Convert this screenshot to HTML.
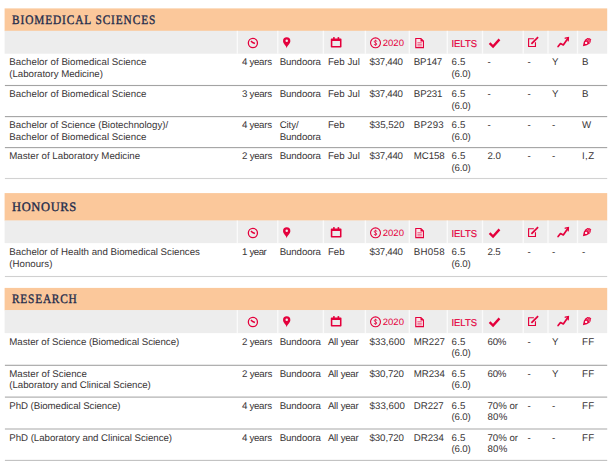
<!DOCTYPE html>
<html><head><meta charset="utf-8"><title>Courses</title><style>
html,body{margin:0;padding:0;background:#fff;}
body{width:612px;height:470px;position:relative;overflow:hidden;font-family:"Liberation Sans",sans-serif;}
svg.bg{position:absolute;left:0;top:0;}
svg.bg text{font-family:"Liberation Sans",sans-serif;text-rendering:geometricPrecision;}
.t{position:absolute;text-rendering:geometricPrecision;font-size:9.7px;line-height:14px;height:14px;color:#393536;white-space:nowrap;}
.h{position:absolute;text-rendering:geometricPrecision;font-family:"Liberation Serif",serif;font-size:12.9px;line-height:20px;height:20px;color:#1d2b4b;white-space:nowrap;-webkit-text-stroke:0.34px #1d2b4b;transform-origin:0 0;}
</style></head>
<body>
<svg class="bg" width="612" height="470" viewBox="0 0 612 470">
<rect x="4.60" y="8.40" width="602.60" height="22.70" fill="#fbc89b"/>
<rect x="4.60" y="30.80" width="602.60" height="22.90" fill="#ededed"/>
<rect x="236.65" y="30.80" width="1.4" height="22.90" fill="#ffffff" opacity="0.72"/>
<rect x="277.05" y="30.80" width="1.4" height="22.90" fill="#ffffff" opacity="0.72"/>
<rect x="322.70" y="30.80" width="1.4" height="22.90" fill="#ffffff" opacity="0.72"/>
<rect x="364.70" y="30.80" width="1.4" height="22.90" fill="#ffffff" opacity="0.72"/>
<rect x="408.60" y="30.80" width="1.4" height="22.90" fill="#ffffff" opacity="0.72"/>
<rect x="446.60" y="30.80" width="1.4" height="22.90" fill="#ffffff" opacity="0.72"/>
<rect x="481.80" y="30.80" width="1.4" height="22.90" fill="#ffffff" opacity="0.72"/>
<rect x="522.50" y="30.80" width="1.4" height="22.90" fill="#ffffff" opacity="0.72"/>
<rect x="547.30" y="30.80" width="1.4" height="22.90" fill="#ffffff" opacity="0.72"/>
<rect x="576.80" y="30.80" width="1.4" height="22.90" fill="#ffffff" opacity="0.72"/>
<g transform="translate(0 0.00)">
<circle cx="252.9" cy="43" r="4.55" fill="none" stroke="#e4003c" stroke-width="1.3"/>
<path d="M250.9 41.2 L253.2 42.8 L254.9 43.5" fill="none" stroke="#e4003c" stroke-width="1.5" stroke-linejoin="round"/>
<path d="M286.7 48.2 C286.3 45.3 283.05 43.9 283.05 40.9 A3.65 3.65 0 0 1 290.35 40.9 C290.35 43.9 287.1 45.3 286.7 48.2 Z" fill="#e4003c"/><circle cx="286.75" cy="40.85" r="1.25" fill="#f6eaec"/>
<path fill-rule="evenodd" d="M331.6 38.4 H340.7 Q341.5 38.4 341.5 39.2 V46.8 Q341.5 47.6 340.7 47.6 H331.6 Q330.8 47.6 330.8 46.8 V39.2 Q330.8 38.4 331.6 38.4 Z M332.35 41.0 V46.05 H339.95 V41.0 Z" fill="#e4003c"/>
<rect x="333.1" y="37.1" width="1.6" height="2" fill="#e4003c"/><rect x="337.6" y="37.1" width="1.6" height="2" fill="#e4003c"/>
<circle cx="375.5" cy="42.8" r="4.95" fill="none" stroke="#e4003c" stroke-width="1.1"/>
<path d="M376.8 41.5 C376.8 40.2 374.3 40.2 374.3 41.6 C374.3 43 376.8 42.6 376.8 44.1 C376.8 45.4 374.2 45.4 374.2 44.1" fill="none" stroke="#e4003c" stroke-width="0.9"/><path d="M375.5 39.7 V45.9" stroke="#e4003c" stroke-width="0.6"/>
<text x="382.7" y="45.6" font-size="9.2" fill="#e4003c" textLength="21.3" lengthAdjust="spacingAndGlyphs">2020</text>
<path d="M415.75 38.55 H420.9 L423.45 41.1 V47.6 H415.75 Z" fill="#fbe4e9" stroke="#e4003c" stroke-width="1.1" stroke-linejoin="miter"/>
<path d="M420.5 38.2 V41.5 H423.8 Z" fill="#e4003c"/>
<path d="M417.4 42.7 H421.8 M417.4 44.3 H421.8 M417.4 45.9 H421.8" stroke="#e4003c" stroke-width="0.7" opacity="0.8"/>
<text x="451.5" y="47" font-size="10" fill="#e4003c" stroke="#e4003c" stroke-width="0.2" textLength="25.4" lengthAdjust="spacingAndGlyphs">IELTS</text>
<path d="M489.6 43.2 L493.05 46.55 L499.45 39.35" fill="none" stroke="#e4003c" stroke-width="2.4"/>
<path d="M533.9 38.75 H528.6 V46.45 H535.45 V42.3" fill="none" stroke="#e4003c" stroke-width="1.15"/>
<path d="M531.4 43.9 L538.1 37.2" fill="none" stroke="#e4003c" stroke-width="1.75"/>
<path d="M558.1 46.6 L560.5 43.5 L563.3 44.9 L567.8 38.4" fill="none" stroke="#e4003c" stroke-width="1.7" stroke-linejoin="round" stroke-linecap="round"/>
<path d="M565.2 38.2 L568.4 37.6 L568.2 40.8" fill="none" stroke="#e4003c" stroke-width="1.35" stroke-linejoin="miter" stroke-linecap="round"/>
<path d="M582.9 46.25 L583.85 41.8 Q585.1 39.1 587.5 38.05 Q590.2 37.4 591.0 39.6 Q591.4 41.7 589.4 43.8 Q587.4 45.5 582.9 46.25 Z" fill="#e4003c"/>
<circle cx="586.1" cy="42.9" r="1.2" fill="#fbeef1"/>
<path d="M586.6 40.6 L588.6 38.9 M587.8 41.6 L589.8 39.8 M588.9 42.7 L590.6 41.0" stroke="#fad3db" stroke-width="0.7"/>
</g>
<rect x="4.90" y="84.95" width="602.30" height="1.10" fill="#a3a3a3"/>
<rect x="4.90" y="116.05" width="602.30" height="1.10" fill="#a3a3a3"/>
<rect x="4.90" y="147.05" width="602.30" height="1.10" fill="#a3a3a3"/>
<rect x="4.90" y="177.95" width="602.30" height="1.10" fill="#d2d2d2"/>
<rect x="4.60" y="193.10" width="602.60" height="27.70" fill="#fbc89b"/>
<rect x="4.60" y="220.50" width="602.60" height="22.60" fill="#ededed"/>
<rect x="236.65" y="220.50" width="1.4" height="22.60" fill="#ffffff" opacity="0.72"/>
<rect x="277.05" y="220.50" width="1.4" height="22.60" fill="#ffffff" opacity="0.72"/>
<rect x="322.70" y="220.50" width="1.4" height="22.60" fill="#ffffff" opacity="0.72"/>
<rect x="364.70" y="220.50" width="1.4" height="22.60" fill="#ffffff" opacity="0.72"/>
<rect x="408.60" y="220.50" width="1.4" height="22.60" fill="#ffffff" opacity="0.72"/>
<rect x="446.60" y="220.50" width="1.4" height="22.60" fill="#ffffff" opacity="0.72"/>
<rect x="481.80" y="220.50" width="1.4" height="22.60" fill="#ffffff" opacity="0.72"/>
<rect x="522.50" y="220.50" width="1.4" height="22.60" fill="#ffffff" opacity="0.72"/>
<rect x="547.30" y="220.50" width="1.4" height="22.60" fill="#ffffff" opacity="0.72"/>
<rect x="576.80" y="220.50" width="1.4" height="22.60" fill="#ffffff" opacity="0.72"/>
<g transform="translate(0 190.00)">
<circle cx="252.9" cy="43" r="4.55" fill="none" stroke="#e4003c" stroke-width="1.3"/>
<path d="M250.9 41.2 L253.2 42.8 L254.9 43.5" fill="none" stroke="#e4003c" stroke-width="1.5" stroke-linejoin="round"/>
<path d="M286.7 48.2 C286.3 45.3 283.05 43.9 283.05 40.9 A3.65 3.65 0 0 1 290.35 40.9 C290.35 43.9 287.1 45.3 286.7 48.2 Z" fill="#e4003c"/><circle cx="286.75" cy="40.85" r="1.25" fill="#f6eaec"/>
<path fill-rule="evenodd" d="M331.6 38.4 H340.7 Q341.5 38.4 341.5 39.2 V46.8 Q341.5 47.6 340.7 47.6 H331.6 Q330.8 47.6 330.8 46.8 V39.2 Q330.8 38.4 331.6 38.4 Z M332.35 41.0 V46.05 H339.95 V41.0 Z" fill="#e4003c"/>
<rect x="333.1" y="37.1" width="1.6" height="2" fill="#e4003c"/><rect x="337.6" y="37.1" width="1.6" height="2" fill="#e4003c"/>
<circle cx="375.5" cy="42.8" r="4.95" fill="none" stroke="#e4003c" stroke-width="1.1"/>
<path d="M376.8 41.5 C376.8 40.2 374.3 40.2 374.3 41.6 C374.3 43 376.8 42.6 376.8 44.1 C376.8 45.4 374.2 45.4 374.2 44.1" fill="none" stroke="#e4003c" stroke-width="0.9"/><path d="M375.5 39.7 V45.9" stroke="#e4003c" stroke-width="0.6"/>
<text x="382.7" y="45.6" font-size="9.2" fill="#e4003c" textLength="21.3" lengthAdjust="spacingAndGlyphs">2020</text>
<path d="M415.75 38.55 H420.9 L423.45 41.1 V47.6 H415.75 Z" fill="#fbe4e9" stroke="#e4003c" stroke-width="1.1" stroke-linejoin="miter"/>
<path d="M420.5 38.2 V41.5 H423.8 Z" fill="#e4003c"/>
<path d="M417.4 42.7 H421.8 M417.4 44.3 H421.8 M417.4 45.9 H421.8" stroke="#e4003c" stroke-width="0.7" opacity="0.8"/>
<text x="451.5" y="47" font-size="10" fill="#e4003c" stroke="#e4003c" stroke-width="0.2" textLength="25.4" lengthAdjust="spacingAndGlyphs">IELTS</text>
<path d="M489.6 43.2 L493.05 46.55 L499.45 39.35" fill="none" stroke="#e4003c" stroke-width="2.4"/>
<path d="M533.9 38.75 H528.6 V46.45 H535.45 V42.3" fill="none" stroke="#e4003c" stroke-width="1.15"/>
<path d="M531.4 43.9 L538.1 37.2" fill="none" stroke="#e4003c" stroke-width="1.75"/>
<path d="M558.1 46.6 L560.5 43.5 L563.3 44.9 L567.8 38.4" fill="none" stroke="#e4003c" stroke-width="1.7" stroke-linejoin="round" stroke-linecap="round"/>
<path d="M565.2 38.2 L568.4 37.6 L568.2 40.8" fill="none" stroke="#e4003c" stroke-width="1.35" stroke-linejoin="miter" stroke-linecap="round"/>
<path d="M582.9 46.25 L583.85 41.8 Q585.1 39.1 587.5 38.05 Q590.2 37.4 591.0 39.6 Q591.4 41.7 589.4 43.8 Q587.4 45.5 582.9 46.25 Z" fill="#e4003c"/>
<circle cx="586.1" cy="42.9" r="1.2" fill="#fbeef1"/>
<path d="M586.6 40.6 L588.6 38.9 M587.8 41.6 L589.8 39.8 M588.9 42.7 L590.6 41.0" stroke="#fad3db" stroke-width="0.7"/>
</g>
<rect x="4.90" y="275.95" width="602.30" height="1.10" fill="#d0d0d0"/>
<rect x="4.60" y="287.90" width="602.60" height="22.50" fill="#fbc89b"/>
<rect x="4.60" y="310.10" width="602.60" height="23.00" fill="#ededed"/>
<rect x="236.65" y="310.10" width="1.4" height="23.00" fill="#ffffff" opacity="0.72"/>
<rect x="277.05" y="310.10" width="1.4" height="23.00" fill="#ffffff" opacity="0.72"/>
<rect x="322.70" y="310.10" width="1.4" height="23.00" fill="#ffffff" opacity="0.72"/>
<rect x="364.70" y="310.10" width="1.4" height="23.00" fill="#ffffff" opacity="0.72"/>
<rect x="408.60" y="310.10" width="1.4" height="23.00" fill="#ffffff" opacity="0.72"/>
<rect x="446.60" y="310.10" width="1.4" height="23.00" fill="#ffffff" opacity="0.72"/>
<rect x="481.80" y="310.10" width="1.4" height="23.00" fill="#ffffff" opacity="0.72"/>
<rect x="522.50" y="310.10" width="1.4" height="23.00" fill="#ffffff" opacity="0.72"/>
<rect x="547.30" y="310.10" width="1.4" height="23.00" fill="#ffffff" opacity="0.72"/>
<rect x="576.80" y="310.10" width="1.4" height="23.00" fill="#ffffff" opacity="0.72"/>
<g transform="translate(0 279.00)">
<circle cx="252.9" cy="43" r="4.55" fill="none" stroke="#e4003c" stroke-width="1.3"/>
<path d="M250.9 41.2 L253.2 42.8 L254.9 43.5" fill="none" stroke="#e4003c" stroke-width="1.5" stroke-linejoin="round"/>
<path d="M286.7 48.2 C286.3 45.3 283.05 43.9 283.05 40.9 A3.65 3.65 0 0 1 290.35 40.9 C290.35 43.9 287.1 45.3 286.7 48.2 Z" fill="#e4003c"/><circle cx="286.75" cy="40.85" r="1.25" fill="#f6eaec"/>
<path fill-rule="evenodd" d="M331.6 38.4 H340.7 Q341.5 38.4 341.5 39.2 V46.8 Q341.5 47.6 340.7 47.6 H331.6 Q330.8 47.6 330.8 46.8 V39.2 Q330.8 38.4 331.6 38.4 Z M332.35 41.0 V46.05 H339.95 V41.0 Z" fill="#e4003c"/>
<rect x="333.1" y="37.1" width="1.6" height="2" fill="#e4003c"/><rect x="337.6" y="37.1" width="1.6" height="2" fill="#e4003c"/>
<circle cx="375.5" cy="42.8" r="4.95" fill="none" stroke="#e4003c" stroke-width="1.1"/>
<path d="M376.8 41.5 C376.8 40.2 374.3 40.2 374.3 41.6 C374.3 43 376.8 42.6 376.8 44.1 C376.8 45.4 374.2 45.4 374.2 44.1" fill="none" stroke="#e4003c" stroke-width="0.9"/><path d="M375.5 39.7 V45.9" stroke="#e4003c" stroke-width="0.6"/>
<text x="382.7" y="45.6" font-size="9.2" fill="#e4003c" textLength="21.3" lengthAdjust="spacingAndGlyphs">2020</text>
<path d="M415.75 38.55 H420.9 L423.45 41.1 V47.6 H415.75 Z" fill="#fbe4e9" stroke="#e4003c" stroke-width="1.1" stroke-linejoin="miter"/>
<path d="M420.5 38.2 V41.5 H423.8 Z" fill="#e4003c"/>
<path d="M417.4 42.7 H421.8 M417.4 44.3 H421.8 M417.4 45.9 H421.8" stroke="#e4003c" stroke-width="0.7" opacity="0.8"/>
<text x="451.5" y="47" font-size="10" fill="#e4003c" stroke="#e4003c" stroke-width="0.2" textLength="25.4" lengthAdjust="spacingAndGlyphs">IELTS</text>
<path d="M489.6 43.2 L493.05 46.55 L499.45 39.35" fill="none" stroke="#e4003c" stroke-width="2.4"/>
<path d="M533.9 38.75 H528.6 V46.45 H535.45 V42.3" fill="none" stroke="#e4003c" stroke-width="1.15"/>
<path d="M531.4 43.9 L538.1 37.2" fill="none" stroke="#e4003c" stroke-width="1.75"/>
<path d="M558.1 46.6 L560.5 43.5 L563.3 44.9 L567.8 38.4" fill="none" stroke="#e4003c" stroke-width="1.7" stroke-linejoin="round" stroke-linecap="round"/>
<path d="M565.2 38.2 L568.4 37.6 L568.2 40.8" fill="none" stroke="#e4003c" stroke-width="1.35" stroke-linejoin="miter" stroke-linecap="round"/>
<path d="M582.9 46.25 L583.85 41.8 Q585.1 39.1 587.5 38.05 Q590.2 37.4 591.0 39.6 Q591.4 41.7 589.4 43.8 Q587.4 45.5 582.9 46.25 Z" fill="#e4003c"/>
<circle cx="586.1" cy="42.9" r="1.2" fill="#fbeef1"/>
<path d="M586.6 40.6 L588.6 38.9 M587.8 41.6 L589.8 39.8 M588.9 42.7 L590.6 41.0" stroke="#fad3db" stroke-width="0.7"/>
</g>
<rect x="4.90" y="364.75" width="602.30" height="1.10" fill="#a3a3a3"/>
<rect x="4.90" y="396.55" width="602.30" height="1.10" fill="#a8a8a8"/>
<rect x="4.90" y="428.45" width="602.30" height="1.10" fill="#b0b0b0"/>
<rect x="4.90" y="459.85" width="602.30" height="1.10" fill="#c0c0c0"/>
</svg>
<div class="t" style="left:9.30px;top:56px;letter-spacing:0.032px;">Bachelor of Biomedical Science</div>
<div class="t" style="left:9.30px;top:68px;letter-spacing:-0.033px;">(Laboratory Medicine)</div>
<div class="t" style="left:242.10px;top:56px;letter-spacing:-0.280px;word-spacing:-0.179px;">4 years</div>
<div class="t" style="left:279.70px;top:56px;letter-spacing:-0.103px;">Bundoora</div>
<div class="t" style="left:327.90px;top:56px;letter-spacing:0.041px;">Feb Jul</div>
<div class="t" style="left:369.50px;top:56px;letter-spacing:-0.253px;">$37,440</div>
<div class="t" style="left:413.80px;top:56px;letter-spacing:-0.157px;">BP147</div>
<div class="t" style="left:451.60px;top:56px;letter-spacing:0.180px;">6.5</div>
<div class="t" style="left:451.60px;top:68px;letter-spacing:-0.216px;">(6.0)</div>
<div class="t" style="left:487.50px;top:56px;">-</div>
<div class="t" style="left:527.50px;top:56px;">-</div>
<div class="t" style="left:552.10px;top:56px;">Y</div>
<div class="t" style="left:581.90px;top:56px;">B</div>
<div class="t" style="left:9.30px;top:88px;letter-spacing:0.032px;">Bachelor of Biomedical Science</div>
<div class="t" style="left:242.10px;top:88px;letter-spacing:-0.280px;word-spacing:-0.029px;">3 years</div>
<div class="t" style="left:279.70px;top:88px;letter-spacing:-0.103px;">Bundoora</div>
<div class="t" style="left:327.90px;top:88px;letter-spacing:0.041px;">Feb Jul</div>
<div class="t" style="left:369.50px;top:88px;letter-spacing:-0.253px;">$37,440</div>
<div class="t" style="left:413.80px;top:88px;letter-spacing:-0.132px;">BP231</div>
<div class="t" style="left:451.60px;top:88px;letter-spacing:0.180px;">6.5</div>
<div class="t" style="left:451.60px;top:100px;letter-spacing:-0.216px;">(6.0)</div>
<div class="t" style="left:487.50px;top:88px;">-</div>
<div class="t" style="left:527.50px;top:88px;">-</div>
<div class="t" style="left:552.10px;top:88px;">Y</div>
<div class="t" style="left:581.90px;top:88px;">B</div>
<div class="t" style="left:9.30px;top:119px;">Bachelor of Science (Biotechnology)/</div>
<div class="t" style="left:9.30px;top:131px;letter-spacing:0.032px;">Bachelor of Biomedical Science</div>
<div class="t" style="left:242.10px;top:119px;letter-spacing:-0.280px;word-spacing:-0.179px;">4 years</div>
<div class="t" style="left:279.70px;top:119px;letter-spacing:-0.114px;">City/</div>
<div class="t" style="left:279.70px;top:131px;letter-spacing:-0.103px;">Bundoora</div>
<div class="t" style="left:327.90px;top:119px;letter-spacing:0.065px;">Feb</div>
<div class="t" style="left:369.50px;top:119px;letter-spacing:-0.036px;">$35,520</div>
<div class="t" style="left:413.80px;top:119px;letter-spacing:0.180px;">BP293</div>
<div class="t" style="left:451.60px;top:119px;letter-spacing:0.180px;">6.5</div>
<div class="t" style="left:451.60px;top:131px;letter-spacing:-0.216px;">(6.0)</div>
<div class="t" style="left:487.50px;top:119px;">-</div>
<div class="t" style="left:527.50px;top:119px;">-</div>
<div class="t" style="left:552.10px;top:119px;">-</div>
<div class="t" style="left:581.90px;top:119px;">W</div>
<div class="t" style="left:9.30px;top:150px;">Master of Laboratory Medicine</div>
<div class="t" style="left:242.10px;top:150px;letter-spacing:-0.280px;word-spacing:0.071px;">2 years</div>
<div class="t" style="left:279.70px;top:150px;letter-spacing:-0.103px;">Bundoora</div>
<div class="t" style="left:327.90px;top:150px;letter-spacing:0.041px;">Feb Jul</div>
<div class="t" style="left:369.50px;top:150px;letter-spacing:-0.253px;">$37,440</div>
<div class="t" style="left:413.80px;top:150px;letter-spacing:-0.106px;">MC158</div>
<div class="t" style="left:451.60px;top:150px;letter-spacing:0.180px;">6.5</div>
<div class="t" style="left:451.60px;top:162px;letter-spacing:-0.216px;">(6.0)</div>
<div class="t" style="left:487.50px;top:150px;letter-spacing:-0.045px;">2.0</div>
<div class="t" style="left:527.50px;top:150px;">-</div>
<div class="t" style="left:552.10px;top:150px;">-</div>
<div class="t" style="left:581.90px;top:150px;letter-spacing:0.455px;">I,Z</div>
<div class="t" style="left:9.30px;top:246px;">Bachelor of Health and Biomedical Sciences</div>
<div class="t" style="left:9.30px;top:258px;">(Honours)</div>
<div class="t" style="left:242.10px;top:246px;letter-spacing:-0.580px;word-spacing:0.571px;">1 year</div>
<div class="t" style="left:279.70px;top:246px;letter-spacing:-0.103px;">Bundoora</div>
<div class="t" style="left:327.90px;top:246px;letter-spacing:0.065px;">Feb</div>
<div class="t" style="left:369.50px;top:246px;letter-spacing:-0.253px;">$37,440</div>
<div class="t" style="left:413.80px;top:246px;letter-spacing:0.296px;">BH058</div>
<div class="t" style="left:451.60px;top:246px;letter-spacing:0.180px;">6.5</div>
<div class="t" style="left:451.60px;top:258px;letter-spacing:-0.216px;">(6.0)</div>
<div class="t" style="left:487.50px;top:246px;letter-spacing:-0.120px;">2.5</div>
<div class="t" style="left:527.50px;top:246px;">-</div>
<div class="t" style="left:552.10px;top:246px;">-</div>
<div class="t" style="left:581.90px;top:246px;">-</div>
<div class="t" style="left:9.30px;top:336px;letter-spacing:-0.035px;">Master of Science (Biomedical Science)</div>
<div class="t" style="left:242.10px;top:336px;letter-spacing:-0.280px;word-spacing:0.071px;">2 years</div>
<div class="t" style="left:279.70px;top:336px;letter-spacing:-0.103px;">Bundoora</div>
<div class="t" style="left:327.90px;top:336px;letter-spacing:-0.300px;word-spacing:0.586px;">All year</div>
<div class="t" style="left:369.50px;top:336px;letter-spacing:0.064px;">$33,600</div>
<div class="t" style="left:413.80px;top:336px;letter-spacing:-0.019px;">MR227</div>
<div class="t" style="left:451.60px;top:336px;letter-spacing:0.180px;">6.5</div>
<div class="t" style="left:451.60px;top:347px;letter-spacing:-0.216px;">(6.0)</div>
<div class="t" style="left:487.50px;top:336px;letter-spacing:-0.220px;">60%</div>
<div class="t" style="left:527.50px;top:336px;">-</div>
<div class="t" style="left:552.10px;top:336px;">Y</div>
<div class="t" style="left:581.90px;top:336px;letter-spacing:0.375px;">FF</div>
<div class="t" style="left:9.30px;top:368px;">Master of Science</div>
<div class="t" style="left:9.30px;top:379px;letter-spacing:-0.037px;">(Laboratory and Clinical Science)</div>
<div class="t" style="left:242.10px;top:368px;letter-spacing:-0.280px;word-spacing:0.071px;">2 years</div>
<div class="t" style="left:279.70px;top:368px;letter-spacing:-0.103px;">Bundoora</div>
<div class="t" style="left:327.90px;top:368px;letter-spacing:-0.300px;word-spacing:0.586px;">All year</div>
<div class="t" style="left:369.50px;top:368px;letter-spacing:-0.086px;">$30,720</div>
<div class="t" style="left:413.80px;top:368px;letter-spacing:-0.044px;">MR234</div>
<div class="t" style="left:451.60px;top:368px;letter-spacing:0.180px;">6.5</div>
<div class="t" style="left:451.60px;top:379px;letter-spacing:-0.216px;">(6.0)</div>
<div class="t" style="left:487.50px;top:368px;letter-spacing:-0.220px;">60%</div>
<div class="t" style="left:527.50px;top:368px;">-</div>
<div class="t" style="left:552.10px;top:368px;">Y</div>
<div class="t" style="left:581.90px;top:368px;letter-spacing:0.375px;">FF</div>
<div class="t" style="left:9.30px;top:400px;letter-spacing:-0.058px;">PhD (Biomedical Science)</div>
<div class="t" style="left:242.10px;top:400px;letter-spacing:-0.280px;word-spacing:-0.179px;">4 years</div>
<div class="t" style="left:279.70px;top:400px;letter-spacing:-0.103px;">Bundoora</div>
<div class="t" style="left:327.90px;top:400px;letter-spacing:-0.300px;word-spacing:0.586px;">All year</div>
<div class="t" style="left:369.50px;top:400px;letter-spacing:0.064px;">$33,600</div>
<div class="t" style="left:413.80px;top:400px;letter-spacing:-0.075px;">DR227</div>
<div class="t" style="left:451.60px;top:400px;letter-spacing:0.180px;">6.5</div>
<div class="t" style="left:451.60px;top:411px;letter-spacing:-0.216px;">(6.0)</div>
<div class="t" style="left:487.50px;top:400px;letter-spacing:-0.051px;">70% or</div>
<div class="t" style="left:487.50px;top:411px;letter-spacing:0.205px;">80%</div>
<div class="t" style="left:527.50px;top:400px;">-</div>
<div class="t" style="left:552.10px;top:400px;">-</div>
<div class="t" style="left:581.90px;top:400px;letter-spacing:0.375px;">FF</div>
<div class="t" style="left:9.30px;top:432px;letter-spacing:-0.042px;">PhD (Laboratory and Clinical Science)</div>
<div class="t" style="left:242.10px;top:432px;letter-spacing:-0.280px;word-spacing:-0.179px;">4 years</div>
<div class="t" style="left:279.70px;top:432px;letter-spacing:-0.103px;">Bundoora</div>
<div class="t" style="left:327.90px;top:432px;letter-spacing:-0.300px;word-spacing:0.586px;">All year</div>
<div class="t" style="left:369.50px;top:432px;letter-spacing:-0.086px;">$30,720</div>
<div class="t" style="left:413.80px;top:432px;letter-spacing:-0.025px;">DR234</div>
<div class="t" style="left:451.60px;top:432px;letter-spacing:0.180px;">6.5</div>
<div class="t" style="left:451.60px;top:443px;letter-spacing:-0.216px;">(6.0)</div>
<div class="t" style="left:487.50px;top:432px;letter-spacing:-0.051px;">70% or</div>
<div class="t" style="left:487.50px;top:443px;letter-spacing:0.205px;">80%</div>
<div class="t" style="left:527.50px;top:432px;">-</div>
<div class="t" style="left:552.10px;top:432px;">-</div>
<div class="t" style="left:581.90px;top:432px;letter-spacing:0.375px;">FF</div>
<div class="h" style="left:11.82px;top:10px;letter-spacing:1.016px;transform:scaleX(0.88);">BIOMEDICAL SCIENCES</div>
<div class="h" style="left:11.80px;top:197px;letter-spacing:0.655px;transform:scaleX(0.97);">HONOURS</div>
<div class="h" style="left:11.82px;top:289px;letter-spacing:0.893px;transform:scaleX(0.88);">RESEARCH</div>
</body></html>
